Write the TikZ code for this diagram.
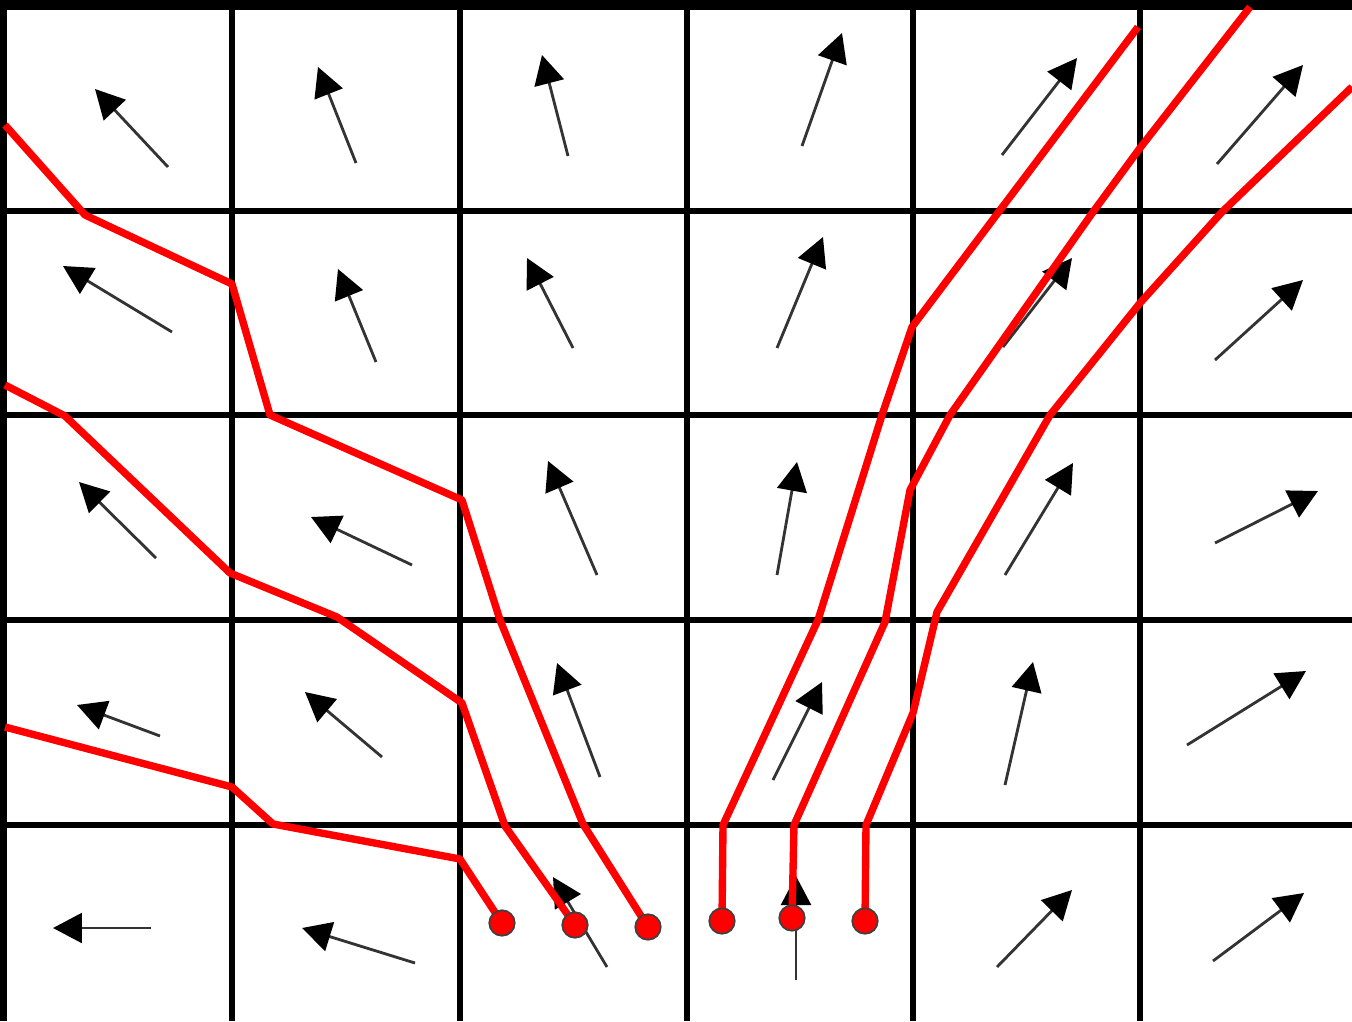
\documentclass[tikz,border=0pt]{standalone}
\usetikzlibrary{arrows.meta}
\begin{document}
\begin{tikzpicture}[x=0.02cm,y=-0.02cm,
  gridline/.style={line width=3pt,black},
  vec/.style={line width=1.6pt,black!80,-{Triangle[length=16.5pt,width=17pt,color=black]}},
  stream/.style={line width=4.2pt,red,line join=round},
  seed/.style={circle,fill=red,draw=black!75,line width=1pt,minimum size=14.5pt,inner sep=0pt}]
\useasboundingbox (0,0) rectangle (1352,1021);
\fill[white] (0,0) rectangle (1352,1021);
% grid
\foreach \x in {232,460,687,913,1140}{\draw[gridline] (\x,0) -- (\x,1021);}
\foreach \y in {211,415,620,825}{\draw[gridline] (0,\y) -- (1352,\y);}
\draw[line width=5.7pt] (0,5) -- (1352,5);
\draw[line width=4pt] (3.5,0) -- (3.5,1021);
% vectors row 1
\draw[vec] (168,167) -- (95,89);
\draw[vec] (356,163) -- (318,67);
\draw[vec] (568,156) -- (542,55);
\draw[vec] (802,146) -- (842,33);
\draw[vec] (1002,155) -- (1077,58);
\draw[vec] (1217,164) -- (1303,65);
% row 2
\draw[vec] (172,332) -- (63,266);
\draw[vec] (376,362) -- (338,269);
\draw[vec] (573,348) -- (527,258);
\draw[vec] (777,348) -- (823,237);
\draw[vec] (1003,347) -- (1072,258);
\draw[vec] (1215,360) -- (1303,280);
% row 3
\draw[vec] (156,558) -- (79,482);
\draw[vec] (412,565) -- (311,517);
\draw[vec] (597,575) -- (548,461);
\draw[vec] (777,575) -- (797,462);
\draw[vec] (1005,575) -- (1073,463);
\draw[vec] (1215,543) -- (1318,491);
% row 4
\draw[vec] (160,736) -- (77,705);
\draw[vec] (382,757) -- (305,692);
\draw[vec] (600,777) -- (557,663);
\draw[vec] (773,780) -- (822,682);
\draw[vec] (1005,785) -- (1033,662);
\draw[vec] (1187,745) -- (1306,671);
% row 5
\draw[vec] (151,928) -- (53,928);
\draw[vec] (415,963) -- (302,928);
\draw[vec] (607,967) -- (553,877);
\draw[vec] (796,980) -- (796,876);
\draw[vec] (997,967) -- (1072,890);
\draw[vec] (1213,961) -- (1304,893);
% seed positions
\coordinate (s1) at (502,923);
\coordinate (s2) at (575,925);
\coordinate (s3) at (648,927);
\coordinate (s4) at (722,921);
\coordinate (s5) at (792,918);
\coordinate (s6) at (865,921);
% streamlines
\draw[stream] (5,125) -- (85,215) -- (232,284) -- (270,415) -- (462,500) -- (500,620) -- (583,824) -- (s3);
\draw[stream] (5,385) -- (65,416) -- (230,573) -- (337,617) -- (462,703) -- (505,826) -- (s2);
\draw[stream] (5,727) -- (232,787) -- (273,824) -- (460,859) -- (s1);
\draw[stream] (s4) -- (723,825) -- (818,620) -- (882,415) -- (912,327) -- (1138,27);
\draw[stream] (s5) -- (794,825) -- (885,622) -- (910,490) -- (950,415) -- (1093,212) -- (1140,148) -- (1250,7);
\draw[stream] (s6) -- (866,825) -- (913,713) -- (937,612) -- (1050,415) -- (1140,303) -- (1222,212) -- (1352,87);
% seeds on top
\foreach \n in {s1,s2,s3,s4,s5,s6}{\node[seed] (d\n) at (\n) {};}
\end{tikzpicture}
\end{document}
